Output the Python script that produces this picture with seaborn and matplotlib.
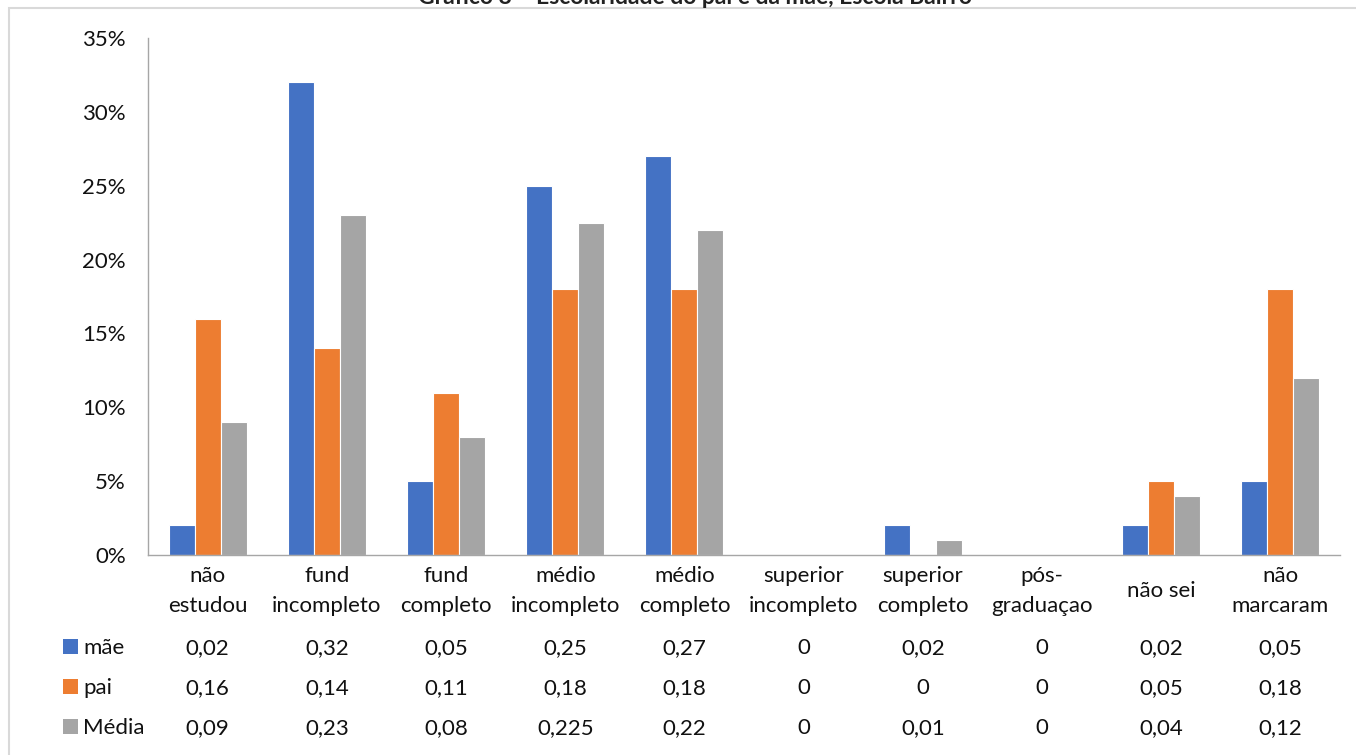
import matplotlib
matplotlib.use("Agg")
import matplotlib.pyplot as plt
from matplotlib.patches import Rectangle
from matplotlib.transforms import blended_transform_factory
import pandas as pd
import seaborn as sns

# Education level categories (x axis)
categories = [
    "não\nestudou", "fund\nincompleto", "fund\ncompleto", "médio\nincompleto",
    "médio\ncompleto", "superior\nincompleto", "superior\ncompleto",
    "pós-\ngraduaçao", "não sei", "não\nmarcaram",
]
series_names = ["mãe", "pai", "Média"]
mae = [0.02, 0.32, 0.05, 0.25, 0.27, 0, 0.02, 0, 0.02, 0.05]
pai = [0.16, 0.14, 0.11, 0.18, 0.18, 0, 0, 0, 0.05, 0.18]
media = [0.09, 0.23, 0.08, 0.225, 0.22, 0, 0.01, 0, 0.04, 0.12]
y_ticks = [0, 0.05, 0.10, 0.15, 0.20, 0.25, 0.30, 0.35]
y_tick_labels = ["0%", "5%", "10%", "15%", "20%", "25%", "30%", "35%"]
title = "Gráfico 8 – Escolaridade do pai e da mãe, Escola Bairro"

colors = ["#4472C4", "#ED7D31", "#A5A5A5"]
text_color = "#111111"
fs = 16

sns.set_theme(style="white")
plt.rcParams["font.family"] = ["Lato", "DejaVu Sans"]

W, H = 1356, 755
fig = plt.figure(figsize=(W / 100, H / 100), dpi=100)
ax = fig.add_axes([148 / W, 1 - 555 / H, (1340 - 148) / W, (555 - 38) / H])

values = {"mãe": mae, "pai": pai, "Média": media}
df = pd.DataFrame(
    [(c, s, v) for s in series_names for c, v in zip(categories, values[s])],
    columns=["categoria", "serie", "valor"],
)

sns.barplot(
    data=df, x="categoria", y="valor", hue="serie",
    order=categories, hue_order=series_names, palette=colors,
    saturation=1, width=0.655, edgecolor="white", linewidth=0.8,
    legend=False, ax=ax,
)

ax.set_xlim(-0.5, len(categories) - 0.5)
ax.set_ylim(0, 0.35)
ax.set_yticks(y_ticks)
ax.set_yticklabels(y_tick_labels, fontsize=fs, color=text_color)
ax.tick_params(axis="y", length=0, pad=16)
ax.set_xticks(range(len(categories)))
ax.set_xticklabels([])
ax.tick_params(axis="x", length=0)
ax.set_xlabel("")
ax.set_ylabel("")
for side in ["top", "right"]:
    ax.spines[side].set_visible(False)
for side in ["left", "bottom"]:
    ax.spines[side].set_color("#a6a6a6")
    ax.spines[side].set_linewidth(1.0)

ax_h = 555 - 38
trans = blended_transform_factory(ax.transData, ax.transAxes)
fig_px = fig.transFigure

# Category labels under the axis
for i, cat in enumerate(categories):
    ax.text(i, -(591 - 555) / ax_h, cat, transform=trans, ha="center",
            va="center", fontsize=fs, color=text_color, linespacing=1.62,
            multialignment="center")

# Data table rows with legend keys (text placed on a common baseline)
row_y = [646, 686, 726]
for s, col, ypx in zip(series_names, colors, row_y):
    yf = 1 - ypx / H
    base_px = ypx + 8
    fig.patches.append(Rectangle((63 / W, yf - 7.5 / H), 15 / W, 15 / H,
                                 transform=fig_px, facecolor=col,
                                 edgecolor="none"))
    fig.text(83 / W, 1 - base_px / H, s, ha="left", va="baseline",
             fontsize=fs, color=text_color)
    for i, v in enumerate(values[s]):
        label = f"{v:g}".replace(".", ",")
        ax.text(i, -(base_px - 555) / ax_h, label, transform=trans,
                ha="center", va="baseline", fontsize=fs, color=text_color)

# Outer chart frame
fig.patches.append(Rectangle((9 / W, -0.1), 1.2, 1 - 8 / H + 0.1,
                             transform=fig_px, facecolor="none",
                             edgecolor="#d9d9d9", linewidth=1.5))

# Title sitting above the frame
fig.text(695 / W, 1 - 4 / H, title, ha="center", va="baseline",
         fontsize=16.5, fontweight="bold", color="#222222")

fig.savefig("out.png", dpi=100)
